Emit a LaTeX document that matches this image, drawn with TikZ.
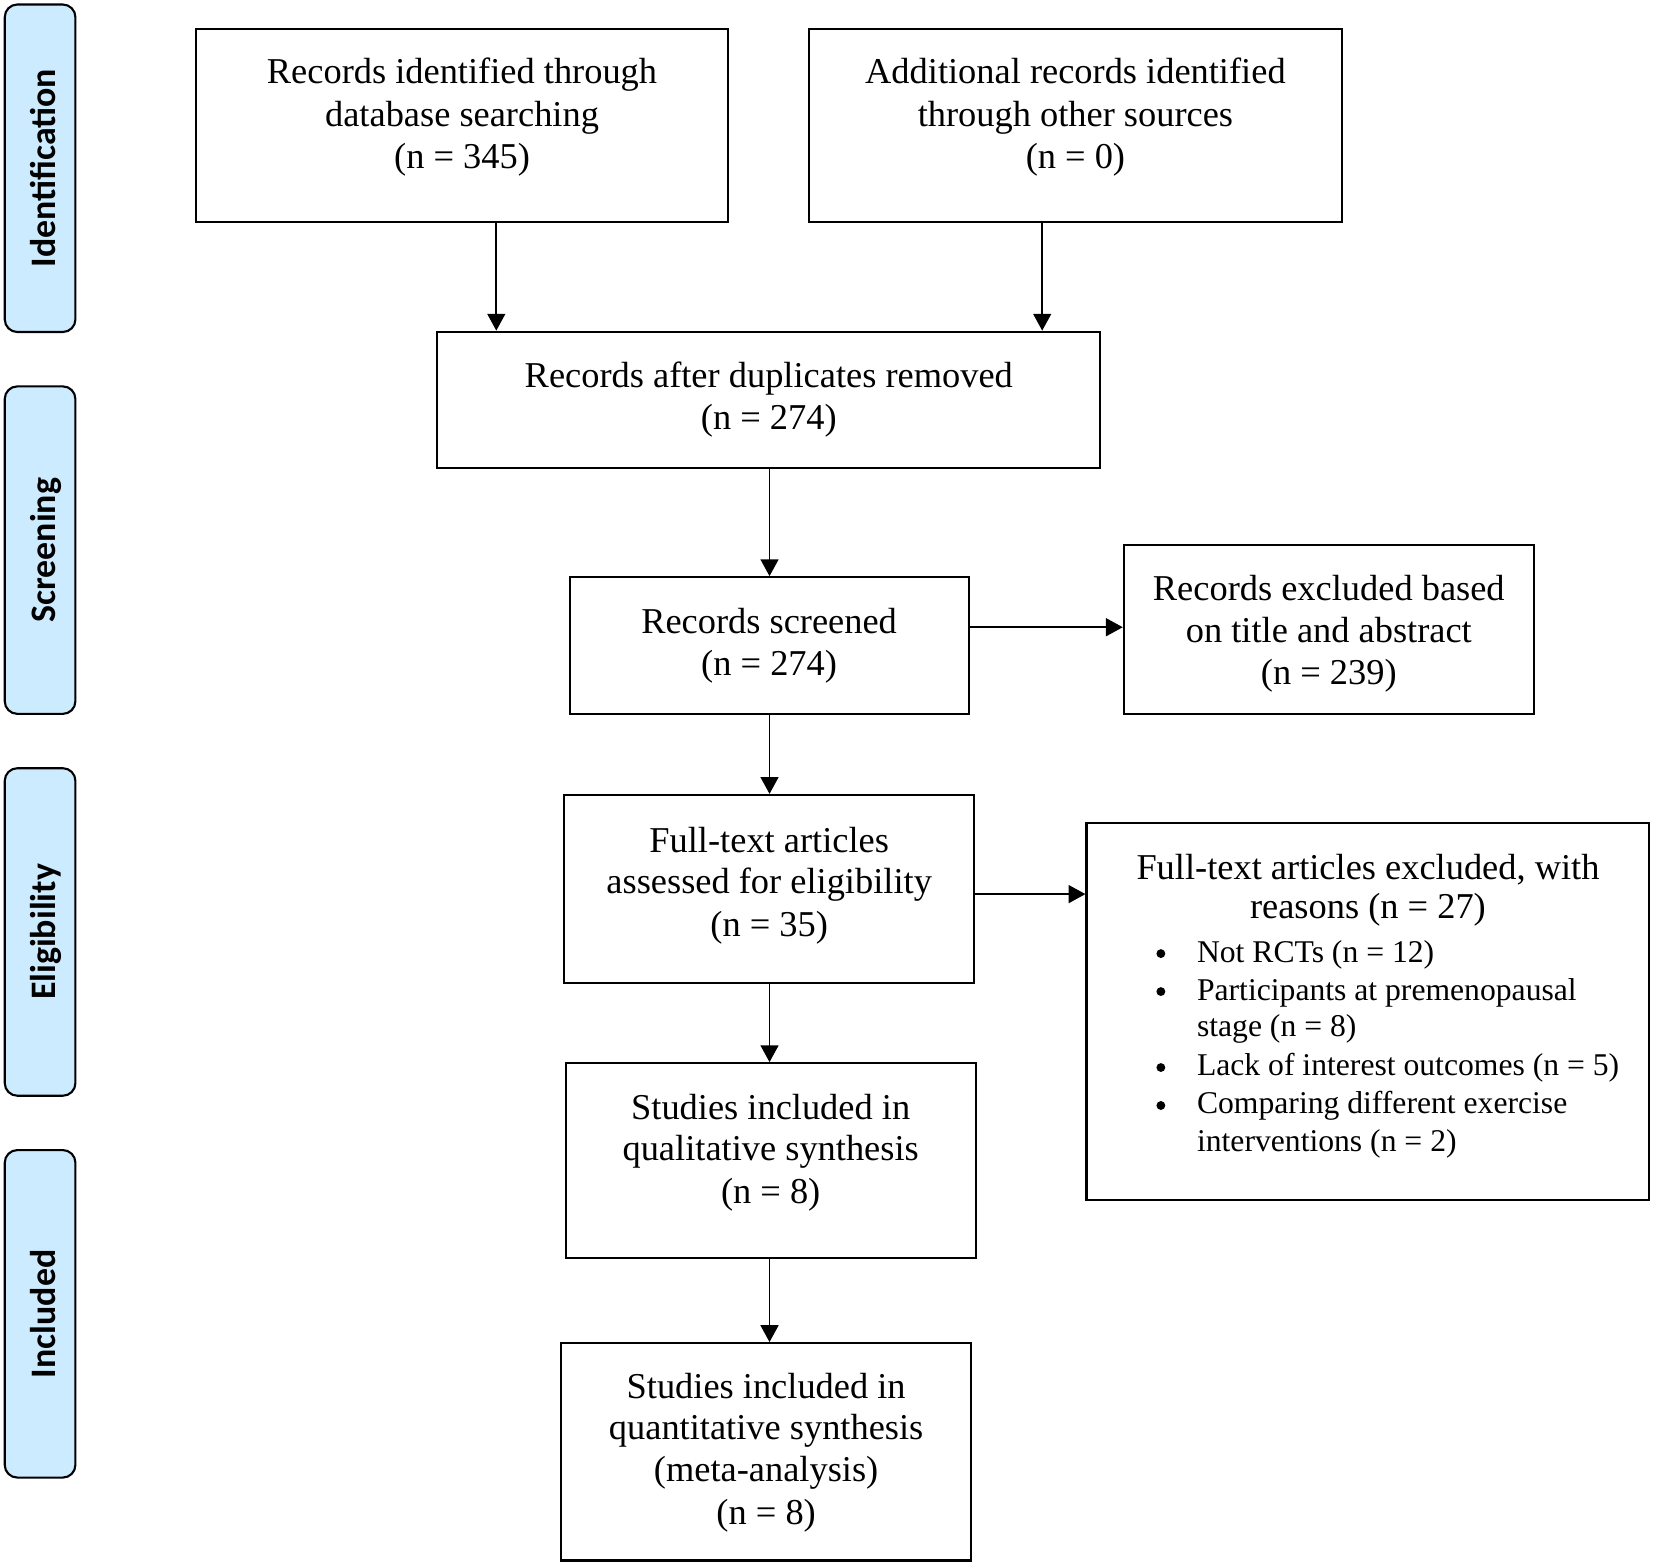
\documentclass[tikz,border=0pt]{standalone}
\usepackage{fontspec}
\setmainfont{Liberation Serif}
\newfontfamily\labfont{Carlito}
\usetikzlibrary{arrows.meta}
\definecolor{labblue}{RGB}{205,235,255}
\begin{document}
\begin{tikzpicture}[x=0.5pt,y=-0.5pt,
  box/.style={draw, line width=1pt, inner sep=0pt},
  lab/.style={draw, line width=1pt, fill=labblue, rounded corners=6pt, inner sep=0pt,
              minimum width=33.5pt, minimum height=155.25pt},
  labtxt/.style={rotate=90, anchor=base, inner sep=0pt,
              font=\labfont\bfseries\fontsize{17}{20}\selectfont},
  txt/.style={anchor=base, inner sep=0pt, font=\fontsize{17.25}{20}\selectfont},
  ttl/.style={anchor=base, inner sep=0pt, font=\fontsize{17.25}{20}\selectfont},
  btxt/.style={anchor=base west, inner sep=0pt, font=\fontsize{15}{18}\selectfont},
  bul/.style={circle, fill=black, inner sep=0pt, minimum size=4.2pt},
  arr/.style={line width=0.85pt, -{Triangle[length=8pt,width=8.5pt]}}
]
% canvas
\fill[white] (0,0) rectangle (1568,1484.6);
\useasboundingbox (0,0) rectangle (1568,1484.6);

% stage labels
\node[lab] (Lid) at (38,159.5) {};
\node[labtxt] (Lidt) at (52.5,159.5) {Identification};
\node[lab] (Lsc) at (38,521.5) {};
\node[labtxt] (Lsct) at (52.5,521.5) {Screening};
\node[lab] (Lel) at (38,883.5) {};
\node[labtxt] (Lelt) at (52.5,883.5) {Eligibility};
\node[lab] (Lin) at (38,1245.5) {};
\node[labtxt] (Lint) at (52.5,1245.5) {Included};

% boxes
\node[box, minimum width=252pt, minimum height=91.5pt] (A) at (438,119) {};
\node[box, minimum width=252.5pt, minimum height=91.5pt] (B) at (1019.5,119) {};
\node[box, minimum width=314.2pt, minimum height=64.75pt] (C) at (728.8,379.2) {};
\node[box, minimum width=189.1pt, minimum height=64.8pt] (D) at (729.1,612) {};
\node[box, minimum width=194.3pt, minimum height=80.2pt] (E) at (1259.7,596.8) {};
\node[box, minimum width=194.3pt, minimum height=89.2pt] (F) at (729.2,842.8) {};
\node[box, minimum width=266.5pt, minimum height=179pt] (G) at (1296.5,959) {};
\node[box, minimum width=194.4pt, minimum height=92.35pt] (H) at (730.6,1100.25) {};
\node[box, minimum width=194.25pt, minimum height=103pt] (I) at (726.25,1376.3) {};

% texts
\node[txt] (A1) at (438,79) {Records identified through};
\node[txt] (A2) at (438,120) {database searching};
\node[txt] (A3) at (438,160) {(n = 345)};

\node[txt] (B1) at (1019.5,79) {Additional records identified};
\node[txt] (B2) at (1019.5,120) {through other sources};
\node[txt] (B3) at (1019.5,160) {(n = 0)};

\node[txt] (C1) at (728.8,367.5) {Records after duplicates removed};
\node[txt] (C2) at (728.8,407.6) {(n = 274)};

\node[txt] (D1) at (729.1,600.3) {Records screened};
\node[txt] (D2) at (729.1,640.8) {(n = 274)};

\node[txt] (E1) at (1259.7,569.4) {Records excluded based};
\node[txt] (E2) at (1259.7,608.8) {on title and abstract};
\node[txt] (E3) at (1259.7,649.3) {(n = 239)};

\node[txt] (F1) at (729.2,808.2) {Full-text articles};
\node[txt] (F2) at (729.2,846.7) {assessed for eligibility};
\node[txt] (F3) at (729.2,887.9) {(n = 35)};

\node[ttl] (G1) at (1296.8,834) {Full-text articles excluded, with};
\node[ttl] (G2) at (1296.8,871) {reasons (n = 27)};
\node[bul] (Gb1) at (1100.5,904) {};
\node[btxt] (G3) at (1134.4,912) {Not RCTs (n = 12)};
\node[bul] (Gb2) at (1100.5,940) {};
\node[btxt] (G4) at (1134.4,948) {Participants at premenopausal};
\node[btxt] (G5) at (1134.4,983) {stage (n = 8)};
\node[bul] (Gb3) at (1100.5,1012) {};
\node[btxt] (G6) at (1134.4,1020) {Lack of interest outcomes (n = 5)};
\node[bul] (Gb4) at (1100.5,1048) {};
\node[btxt] (G7) at (1134.4,1056) {Comparing different exercise};
\node[btxt] (G8) at (1134.4,1091.5) {interventions (n = 2)};

\node[txt] (H1) at (730.6,1061) {Studies included in};
\node[txt] (H2) at (730.6,1100.5) {qualitative synthesis};
\node[txt] (H3) at (730.6,1140.6) {(n = 8)};

\node[txt] (I1) at (726.3,1325.4) {Studies included in};
\node[txt] (I2) at (726.3,1364.3) {quantitative synthesis};
\node[txt] (I3) at (726.3,1404.4) {(meta-analysis)};
\node[txt] (I4) at (726.3,1445.5) {(n = 8)};

% connector guides
\coordinate (xa) at (470.5,0);
\coordinate (xb) at (988,0);
\coordinate (xm) at (729.5,0);
\coordinate (yde) at (0,594.6);
\coordinate (yfg) at (0,847.6);

% connectors
\draw[arr] (A.south -| xa) -- (C.north -| xa);
\draw[arr] (B.south -| xb) -- (C.north -| xb);
\draw[arr] (C.south -| xm) -- (D.north -| xm);
\draw[arr] (D.east |- yde) -- (E.west |- yde);
\draw[arr] (D.south -| xm) -- (F.north -| xm);
\draw[arr] (F.east |- yfg) -- (G.west |- yfg);
\draw[arr] (F.south -| xm) -- (H.north -| xm);
\draw[arr] (H.south -| xm) -- (I.north -| xm);
\end{tikzpicture}
\end{document}
